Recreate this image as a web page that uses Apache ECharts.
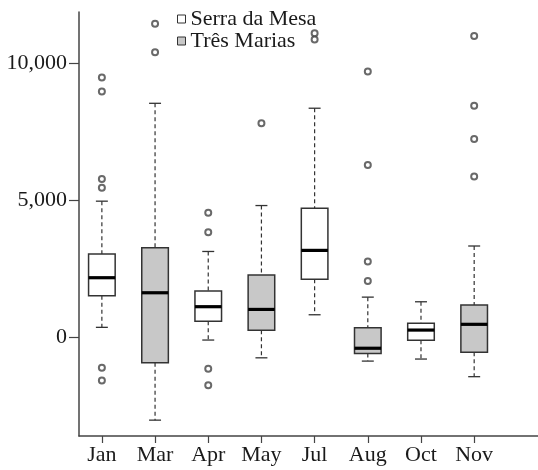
<!DOCTYPE html>
<html>
<head>
<meta charset="utf-8">
<script src="https://cdn.jsdelivr.net/npm/echarts@6/dist/echarts.min.js"></script>
<style>
  html, body { margin: 0; padding: 0; background: #fff; }
  #main { width: 538px; height: 470px; }
</style>
</head>
<body>
<div id="main"></div>
<script>
// months shown on the x axis, in drawing order
var months = ['Jan', 'Mar', 'Apr', 'May', 'Jul', 'Aug', 'Oct', 'Nov'];
var stations = ['Serra da Mesa', 'Três Marias'];
// which station each month's box belongs to (0 = Serra da Mesa, 1 = Três Marias)
var stationOf = [0, 1, 0, 1, 0, 1, 0, 1];
// [lower whisker, Q1, median, Q3, upper whisker]
var boxStats = [
    [355, 1510, 2170, 3040, 4970],
    [-3040, -940, 1620, 3270, 8550],
    [-110, 575, 1110, 1680, 3130],
    [-760, 245, 1010, 2270, 4810],
    [815, 2110, 3170, 4710, 8370],
    [-880, -600, -410, 340, 1460],
    [-805, -120, 255, 500, 1290],
    [-1450, -560, 465, 1170, 3330]
];
var outliers = [
    [9490, 8980, 5780, 5460, -1120, -1590],
    [11460, 10420],
    [4550, 3830, -1160, -1760],
    [7820],
    [11110, 10880],
    [9710, 6290, 2760, 2050],
    [],
    [11010, 8460, 7240, 5870]
];
var yTicks = [0, 5000, 10000];

var fills = ['#ffffff', '#c8c8c8'];
var font = 'Liberation Serif';
var ink = '#1a1a1a';

function renderBox(params, api) {
    var x = api.value(0);
    var lo = api.coord([x, api.value(1)]);
    var q1 = api.coord([x, api.value(2)]);
    var md = api.coord([x, api.value(3)]);
    var q3 = api.coord([x, api.value(4)]);
    var hi = api.coord([x, api.value(5)]);
    var cx = lo[0];
    var w = api.size([1, 0])[0] * 0.5;
    var cap = w * 0.45;
    var dashed = { stroke: '#333', lineWidth: 1.2, lineDash: [4, 3] };
    var solid = { stroke: '#333', lineWidth: 1.3 };
    return {
        type: 'group',
        children: [
            { type: 'line', shape: { x1: cx, y1: hi[1], x2: cx, y2: q3[1] }, style: dashed },
            { type: 'line', shape: { x1: cx, y1: q1[1], x2: cx, y2: lo[1] }, style: dashed },
            { type: 'line', shape: { x1: cx - cap / 2, y1: hi[1], x2: cx + cap / 2, y2: hi[1] }, style: solid },
            { type: 'line', shape: { x1: cx - cap / 2, y1: lo[1], x2: cx + cap / 2, y2: lo[1] }, style: solid },
            {
                type: 'rect',
                shape: { x: cx - w / 2, y: q3[1], width: w, height: q1[1] - q3[1] },
                style: { fill: fills[params.seriesIndex], stroke: '#333', lineWidth: 1.5 }
            },
            { type: 'line', shape: { x1: cx - w / 2, y1: md[1], x2: cx + w / 2, y2: md[1] }, style: { stroke: '#000', lineWidth: 3.2 } }
        ]
    };
}

var boxSeries = stations.map(function (name, s) {
    var data = [];
    months.forEach(function (m, i) {
        if (stationOf[i] === s) data.push([i].concat(boxStats[i]));
    });
    return {
        name: name,
        type: 'custom',
        renderItem: renderBox,
        itemStyle: { color: fills[s], borderColor: '#333' },
        encode: { x: 0, y: [1, 2, 3, 4, 5] },
        data: data,
        z: 2
    };
});

var outlierData = [];
outliers.forEach(function (list, i) {
    list.forEach(function (v) { outlierData.push([i, v]); });
});

var monthIdx = months.map(function (m, i) { return i; });

var myChart = echarts.init(document.getElementById('main'));
myChart.setOption({
    animation: false,
    grid: { left: 79, right: 0, top: 12, bottom: 34 },
    legend: {
        orient: 'vertical',
        left: 177,
        top: 8,
        padding: 0,
        itemGap: 0,
        itemWidth: 8,
        itemHeight: 8,
        textStyle: { fontFamily: font, fontSize: 22, lineHeight: 22, color: ink },
        data: [
            { name: stations[0], icon: 'rect', itemStyle: { color: fills[0], borderColor: '#333', borderWidth: 1 } },
            { name: stations[1], icon: 'rect', itemStyle: { color: fills[1], borderColor: '#333', borderWidth: 1 } }
        ]
    },
    xAxis: {
        type: 'value',
        min: -0.43,
        max: 8.2,
        splitLine: { show: false },
        axisLine: { onZero: false, lineStyle: { color: '#444', width: 1.5 } },
        axisTick: { length: 7, lineStyle: { color: '#444', width: 1.2 }, customValues: monthIdx },
        axisLabel: {
            customValues: monthIdx,
            formatter: function (v) { return months[Math.round(v)]; },
            fontFamily: font, fontSize: 22, color: ink, margin: 8
        }
    },
    yAxis: {
        type: 'value',
        min: -3620,
        max: 11890,
        splitLine: { show: false },
        axisLine: { show: true, onZero: false, lineStyle: { color: '#444', width: 1.5 } },
        axisTick: { show: true, length: 10, lineStyle: { color: '#444', width: 1.2 }, customValues: yTicks },
        axisLabel: {
            customValues: yTicks,
            formatter: function (v) { return v.toLocaleString('en-US'); },
            fontFamily: font, fontSize: 22, color: ink, margin: 12
        }
    },
    series: boxSeries.concat([{
        name: 'outliers',
        type: 'scatter',
        symbol: 'emptyCircle',
        symbolSize: 6,
        itemStyle: { color: '#444', borderColor: '#444', borderWidth: 1 },
        data: outlierData,
        z: 3
    }])
});
</script>
</body>
</html>
